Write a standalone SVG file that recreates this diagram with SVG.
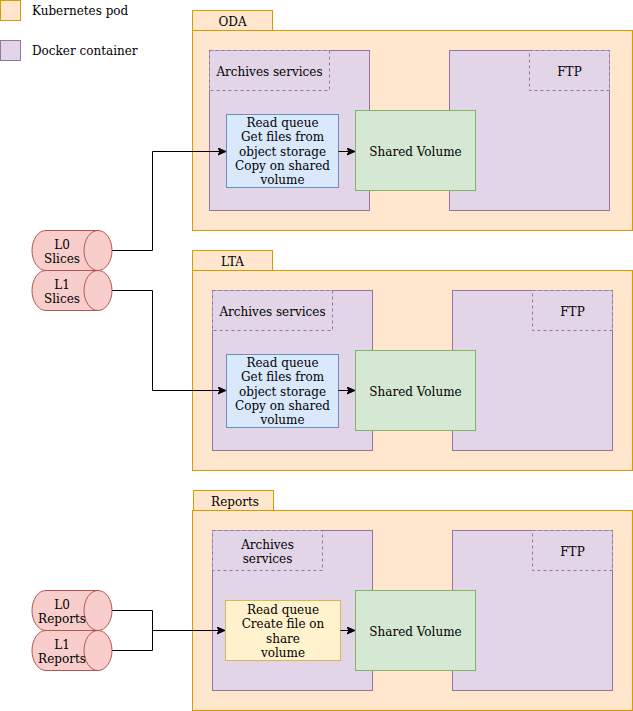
<svg xmlns="http://www.w3.org/2000/svg" width="633" height="711" viewBox="0 0 633 711">
<defs>
<style>
text{font-family:"DejaVu Serif","Liberation Serif",serif;font-size:12px;fill:#000;text-anchor:middle}
.pod{fill:#ffe6cc;stroke:#d79b00;stroke-width:1}
.ctr{fill:#e1d5e7;stroke:#9673a6;stroke-width:1}
.lbl{fill:#e1d5e7;stroke:#9673a6;stroke-width:1;stroke-dasharray:3 3}
.blue{fill:#dae8fc;stroke:#6c8ebf;stroke-width:1}
.green{fill:#d5e8d4;stroke:#82b366;stroke-width:1}
.yellow{fill:#fff2cc;stroke:#d6b656;stroke-width:1}
.cyl{fill:#f8cecc;stroke:#b85450;stroke-width:1}
.edge{fill:none;stroke:#000;stroke-width:1}
.start{text-anchor:start}
</style>
<marker id="arr" markerWidth="10" markerHeight="10" refX="8" refY="4" orient="auto" markerUnits="userSpaceOnUse">
<path d="M0,0.5 L8,4 L0,7.5 L2,4 Z" fill="#000" stroke="#000" stroke-width="1"/>
</marker>
</defs>

<g id="legend">
<rect class="pod" x="0.5" y="0.5" width="20" height="20"/>
<text class="start" x="32" y="15">Kubernetes pod</text>
<rect class="ctr" x="0.5" y="40.5" width="20" height="20"/>
<text class="start" x="32" y="55">Docker container</text>
</g>

<!-- ODA -->
<g id="oda-pod">
<rect class="pod" x="192.5" y="10.5" width="80" height="20"/>
<text x="232.5" y="26">ODA</text>
<rect class="pod" x="192.5" y="30.5" width="440" height="200"/>
</g>
<g id="oda-archives">
<rect class="ctr" x="209.5" y="50.5" width="160" height="160"/>
<rect class="lbl" x="209.5" y="50.5" width="120" height="40"/>
<text x="269.5" y="76">Archives services</text>
</g>
<g id="oda-ftp">
<rect class="ctr" x="449.5" y="50.5" width="160" height="160"/>
<rect class="lbl" x="529.5" y="50.5" width="80" height="40"/>
<text x="569.5" y="76">FTP</text>
</g>
<g id="oda-task">
<rect class="blue" x="226.5" y="114.5" width="112" height="73"/>
<text x="282.5" y="127">Read queue</text>
<text x="282.5" y="141.3">Get files from</text>
<text x="282.5" y="155.6">object storage</text>
<text x="282.5" y="169.9">Copy on shared</text>
<text x="282.5" y="184.2">volume</text>
</g>
<g id="oda-volume">
<rect class="green" x="355.5" y="110.5" width="120" height="80"/>
<text x="415.5" y="156">Shared Volume</text>
</g>

<!-- LTA -->
<g id="lta-pod">
<rect class="pod" x="192.5" y="250.5" width="80" height="20"/>
<text x="232.5" y="266">LTA</text>
<rect class="pod" x="192.5" y="270.5" width="440" height="200"/>
</g>
<g id="lta-archives">
<rect class="ctr" x="212.5" y="290.5" width="160" height="160"/>
<rect class="lbl" x="212.5" y="290.5" width="120" height="40"/>
<text x="272.5" y="316">Archives services</text>
</g>
<g id="lta-ftp">
<rect class="ctr" x="452.5" y="290.5" width="160" height="160"/>
<rect class="lbl" x="532.5" y="290.5" width="80" height="40"/>
<text x="572.5" y="316">FTP</text>
</g>
<g id="lta-task">
<rect class="blue" x="226.5" y="354.5" width="112" height="73"/>
<text x="282.5" y="367">Read queue</text>
<text x="282.5" y="381.3">Get files from</text>
<text x="282.5" y="395.6">object storage</text>
<text x="282.5" y="409.9">Copy on shared</text>
<text x="282.5" y="424.2">volume</text>
</g>
<g id="lta-volume">
<rect class="green" x="355.5" y="350.5" width="120" height="80"/>
<text x="415.5" y="396">Shared Volume</text>
</g>

<!-- Reports -->
<g id="reports-pod">
<rect class="pod" x="193.5" y="490.5" width="80" height="20"/>
<text x="235" y="506">Reports</text>
<rect class="pod" x="192.5" y="510.5" width="440" height="200"/>
</g>
<g id="reports-archives">
<rect class="ctr" x="212.5" y="530.5" width="160" height="160"/>
<rect class="lbl" x="212.5" y="530.5" width="110" height="40"/>
<text x="267.5" y="549">Archives</text>
<text x="267.5" y="563.3">services</text>
</g>
<g id="reports-ftp">
<rect class="ctr" x="452.5" y="530.5" width="160" height="160"/>
<rect class="lbl" x="532.5" y="530.5" width="80" height="40"/>
<text x="572.5" y="556">FTP</text>
</g>
<g id="reports-task">
<rect class="yellow" x="225.5" y="600.5" width="115" height="60"/>
<text x="283" y="614">Read queue</text>
<text x="283" y="628.3">Create file on</text>
<text x="283" y="642.6">share</text>
<text x="283" y="656.9">volume</text>
</g>
<g id="reports-volume">
<rect class="green" x="355.5" y="590.5" width="120" height="80"/>
<text x="415.5" y="636">Shared Volume</text>
</g>

<!-- Cylinders -->
<g id="l0-slices">
<path class="cyl" d="M46,230.5 L98,230.5 A14,20 0 0 1 98,270.5 L46,270.5 A14,20 0 0 1 46,230.5 Z"/>
<path class="cyl" d="M98,230.5 A14,20 0 0 0 98,270.5"/>
<text x="62" y="248.5">L0</text>
<text x="62" y="262.8">Slices</text>
</g>
<g id="l1-slices">
<path class="cyl" d="M46,270.5 L98,270.5 A14,20 0 0 1 98,310.5 L46,310.5 A14,20 0 0 1 46,270.5 Z"/>
<path class="cyl" d="M98,270.5 A14,20 0 0 0 98,310.5"/>
<text x="62" y="288.5">L1</text>
<text x="62" y="302.8">Slices</text>
</g>
<g id="l0-reports">
<path class="cyl" d="M46,590.5 L98,590.5 A14,20 0 0 1 98,630.5 L46,630.5 A14,20 0 0 1 46,590.5 Z"/>
<path class="cyl" d="M98,590.5 A14,20 0 0 0 98,630.5"/>
<text x="62" y="608.5">L0</text>
<text x="62" y="622.8">Reports</text>
</g>
<g id="l1-reports">
<path class="cyl" d="M46,630.5 L98,630.5 A14,20 0 0 1 98,670.5 L46,670.5 A14,20 0 0 1 46,630.5 Z"/>
<path class="cyl" d="M98,630.5 A14,20 0 0 0 98,670.5"/>
<text x="62" y="648.5">L1</text>
<text x="62" y="662.8">Reports</text>
</g>

<g id="connectors">
<path class="edge" d="M112,250.5 L152.5,250.5"/>
<path class="edge" d="M112,290.5 L152.5,290.5"/>
<path class="edge" d="M152.5,250.5 L152.5,151.5 L226,151.5" marker-end="url(#arr)"/>
<path class="edge" d="M152.5,290.5 L152.5,390.5 L226,390.5" marker-end="url(#arr)"/>
<path class="edge" d="M338.5,151.5 L355,151.5" marker-end="url(#arr)"/>
<path class="edge" d="M338.5,390.5 L355,390.5" marker-end="url(#arr)"/>
<path class="edge" d="M112,610.5 L152.5,610.5 L152.5,650.5 L112,650.5"/>
<path class="edge" d="M152.5,630.5 L225,630.5" marker-end="url(#arr)"/>
<path class="edge" d="M340.5,630.5 L355,630.5" marker-end="url(#arr)"/>
</g>
</svg>
